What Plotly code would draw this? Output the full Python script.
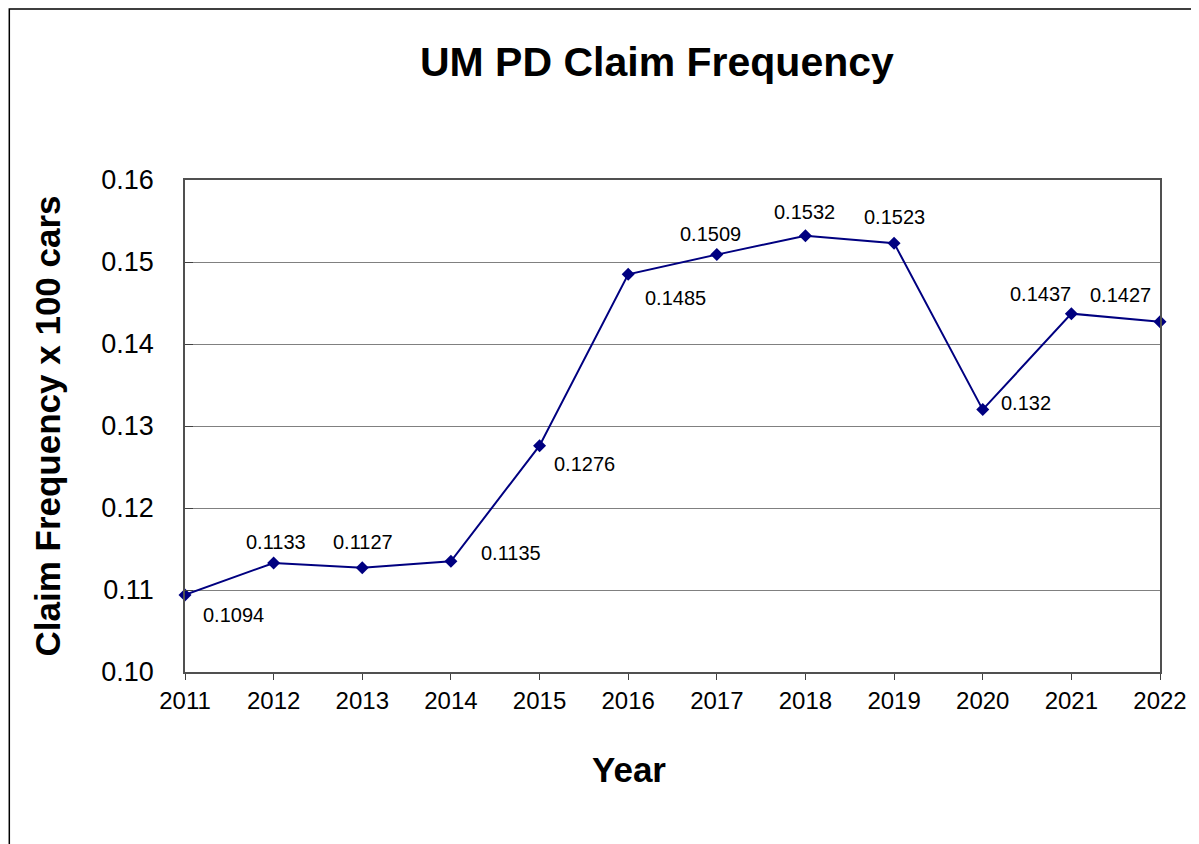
import plotly.graph_objects as go

years = [2011, 2012, 2013, 2014, 2015, 2016, 2017, 2018, 2019, 2020, 2021, 2022]
claim_freq = [0.1094, 0.1133, 0.1127, 0.1135, 0.1276, 0.1485, 0.1509, 0.1532, 0.1523, 0.132, 0.1437, 0.1427]
label_text = ["0.1094", "0.1133", "0.1127", "0.1135", "0.1276", "0.1485", "0.1509", "0.1532", "0.1523", "0.132", "0.1437", "0.1427"]
y_ticks = [0.10, 0.11, 0.12, 0.13, 0.14, 0.15, 0.16]

# pixel offsets of each data label from its point (x right, y up)
label_dx = [48, 2, 1, 60, 45, 47, -6, -1, 0, 43, -31, -40]
label_dy = [-20, 21, 26, 8, -18, -24, 21, 24, 26, 7, 20, 27]

font_family = "Arial, Liberation Sans, sans-serif"

fig = go.Figure()
fig.add_trace(go.Scatter(
    x=years,
    y=claim_freq,
    mode="lines+markers",
    line={"color": "#000080", "width": 2},
    marker={"symbol": "diamond", "size": 10, "color": "#000080"},
    cliponaxis=False,
    showlegend=False,
))

for yr, val, txt, dx, dy in zip(years, claim_freq, label_text, label_dx, label_dy):
    fig.add_annotation(
        x=yr, y=val, text=txt, showarrow=False,
        xshift=dx, yshift=dy,
        font={"size": 20, "color": "black"},
    )

# x axis title, placed off-centre like the original
fig.add_annotation(
    text="<b>Year</b>", xref="paper", yref="paper",
    x=0.4555, y=-0.199, xanchor="center", yanchor="middle",
    showarrow=False, font={"size": 35, "color": "black"},
)

fig.update_layout(
    width=1191,
    height=836,
    margin={"l": 177, "r": 37, "t": 172, "b": 172},
    paper_bgcolor="white",
    plot_bgcolor="white",
    font={"family": font_family, "color": "black"},
    title={
        "text": "<b>UM PD Claim Frequency</b>",
        "font": {"size": 41},
        "x": 0.484, "xref": "paper", "xanchor": "center",
        "y": 0.9354, "yref": "container", "yanchor": "middle",
    },
    shapes=[{
        "type": "rect", "xref": "paper", "yref": "paper",
        "x0": -0.1802, "x1": 1.2, "y0": -0.45, "y1": 1.3476,
        "line": {"color": "black", "width": 1.5},
        "layer": "below",
    }],
)

fig.update_xaxes(
    range=[2011, 2022],
    tickmode="array",
    tickvals=years,
    ticktext=[str(y) for y in years],
    tickfont={"size": 24},
    ticks="outside",
    ticklen=6,
    tickcolor="#404040",
    showgrid=False,
    showline=True,
    linecolor="#505050",
    linewidth=1.5,
    mirror=True,
    zeroline=False,
)
fig.update_yaxes(
    range=[0.10, 0.16],
    tickmode="array",
    tickvals=y_ticks,
    ticktext=[f"{v:.2f}" for v in y_ticks],
    tickfont={"size": 27},
    ticks="inside",
    ticklen=8,
    tickcolor="#404040",
    ticklabelstandoff=24,
    showgrid=True,
    gridcolor="#808080",
    gridwidth=1,
    showline=True,
    linecolor="#505050",
    linewidth=1.5,
    mirror=True,
    zeroline=False,
    title={"text": "<b>Claim Frequency x 100 cars</b>", "font": {"size": 35}, "standoff": 30},
)

fig.write_html("out.html")
